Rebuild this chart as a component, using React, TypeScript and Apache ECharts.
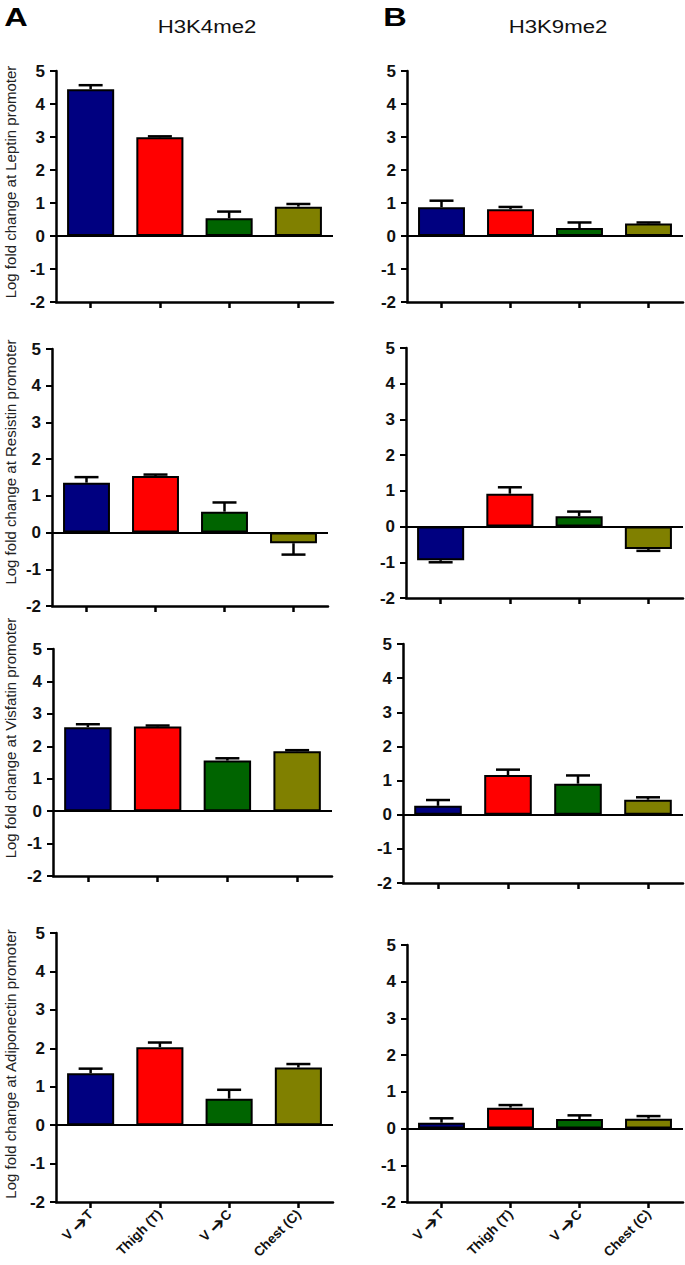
import React, { useEffect, useRef } from "react";
import * as echarts from "echarts";

const ARROW = "\u2794";
const categories = ["V " + ARROW + "T", "Thigh (T)", "V " + ARROW + "C", "Chest (C)"];
const barColors = ["#000080", "#ff0000", "#006400", "#808000"];
const yTicks = [-2, -1, 0, 1, 2, 3, 4, 5];
const histoneMarks = ["H3K4me2", "H3K9me2"];
const panelLetters = ["A", "B"];
const promoters = ["Leptin", "Resistin", "Visfatin", "Adiponectin"];

// H3K4me2 (panel A) means and SEM
const leptinK4 = [4.45, 2.99, 0.54, 0.89];
const leptinK4Sem = [0.12, 0.03, 0.2, 0.08];
const resistinK4 = [1.36, 1.54, 0.57, -0.29];
const resistinK4Sem = [0.15, 0.04, 0.25, 0.31];
const visfatinK4 = [2.59, 2.61, 1.56, 1.85];
const visfatinK4Sem = [0.09, 0.03, 0.07, 0.03];
const adiponectinK4 = [1.35, 2.03, 0.69, 1.5];
const adiponectinK4Sem = [0.12, 0.12, 0.23, 0.09];

// H3K9me2 (panel B) means and SEM
const leptinK9 = [0.87, 0.81, 0.24, 0.38];
const leptinK9Sem = [0.2, 0.07, 0.17, 0.03];
const resistinK9 = [-0.94, 0.92, 0.29, -0.63];
const resistinK9Sem = [0.06, 0.18, 0.13, 0.05];
const visfatinK9 = [0.26, 1.16, 0.91, 0.44];
const visfatinK9Sem = [0.17, 0.16, 0.24, 0.07];
const adiponectinK9 = [0.16, 0.57, 0.26, 0.27];
const adiponectinK9Sem = [0.12, 0.07, 0.1, 0.07];

const seriesK4 = [leptinK4, resistinK4, visfatinK4, adiponectinK4];
const semK4 = [leptinK4Sem, resistinK4Sem, visfatinK4Sem, adiponectinK4Sem];
const seriesK9 = [leptinK9, resistinK9, visfatinK9, adiponectinK9];
const semK9 = [leptinK9Sem, resistinK9Sem, visfatinK9Sem, adiponectinK9Sem];

// layout of grids (pixel boxes): [left, top, width, height]
const gridsLeft = [
  [56, 71, 277, 231],
  [52, 349, 276, 257],
  [53, 649, 279, 227],
  [56, 933, 277, 269],
];
const gridsRight = [
  [407, 71, 276, 231],
  [406, 348, 277, 250],
  [403, 644, 280, 239],
  [407, 945, 276, 257],
];
const yLabelCenters = [182, 462, 738, 1064];

const FONT = "Arial, 'Liberation Sans', sans-serif";

export default function App() {
  const ref = useRef<HTMLDivElement>(null);
  useEffect(() => {
    document.body.style.margin = "0";
    const chart = echarts.init(ref.current!, null, { renderer: "svg" });
    const grid: any[] = [];
    const xAxis: any[] = [];
    const yAxis: any[] = [];
    const series: any[] = [];
    let gi = 0;
    const addPanel = (box: number[], means: number[], sems: number[], showX: boolean) => {
      grid.push({ left: box[0], top: box[1], width: box[2], height: box[3], containLabel: false });
      xAxis.push({
        type: "category",
        gridIndex: gi,
        data: categories,
        axisLine: { onZero: false, lineStyle: { color: "#000", width: 2.5 } },
        axisTick: { show: true, alignWithLabel: true, length: 6, lineStyle: { color: "#000", width: 2.5 } },
        axisLabel: {
          show: showX,
          rotate: 45,
          margin: 10,
          color: "#111",
          fontWeight: "bold",
          fontSize: 13.5,
          fontFamily: FONT,
          formatter: (v: string) => (v.indexOf(ARROW) >= 0 ? v.split(ARROW).join("{arr|" + ARROW + "}") : v),
          rich: {
            arr: { fontSize: 19, fontWeight: "bold", color: "#111", fontFamily: "DejaVu Sans" },
          },
        },
        splitLine: { show: false },
      });
      yAxis.push({
        type: "value",
        gridIndex: gi,
        min: yTicks[0],
        max: yTicks[yTicks.length - 1],
        interval: 1,
        axisLine: { show: true, lineStyle: { color: "#000", width: 2.5 } },
        axisTick: { show: true, length: 6, lineStyle: { color: "#000", width: 2 } },
        axisLabel: { color: "#111", fontWeight: "bold", fontSize: 17, fontFamily: FONT, margin: 11 },
        splitLine: { show: false },
      });
      series.push({
        type: "bar",
        xAxisIndex: gi,
        yAxisIndex: gi,
        barWidth: "68%",
        data: means.map((v, i) => ({
          value: v,
          itemStyle: { color: barColors[i], borderColor: "#000", borderWidth: 2 },
        })),
        markLine: {
          silent: true,
          symbol: "none",
          label: { show: false },
          lineStyle: { color: "#000", width: 2, type: "solid" },
          data: [{ yAxis: 0 }],
        },
        z: 2,
      });
      series.push({
        type: "custom",
        xAxisIndex: gi,
        yAxisIndex: gi,
        z: 3,
        data: means.map((v, i) => [i, v, sems[i]]),
        dimensions: ["cat", "mean", "sem"],
        encode: { x: 0, y: 1 },
        renderItem: (params: any, api: any) => {
          const idx = api.value(0);
          const m = api.value(1);
          const s = api.value(2);
          const end = m >= 0 ? m + s : m - s;
          const p0 = api.coord([idx, m]);
          const p1 = api.coord([idx, end]);
          const hw = 12;
          const style = { stroke: "#000", lineWidth: 2.5 };
          return {
            type: "group",
            children: [
              { type: "line", shape: { x1: p0[0], y1: p0[1], x2: p1[0], y2: p1[1] }, style },
              { type: "line", shape: { x1: p1[0] - hw, y1: p1[1], x2: p1[0] + hw, y2: p1[1] }, style },
            ],
          };
        },
      });
      gi++;
    };
    for (let r = 0; r < 4; r++) {
      addPanel(gridsLeft[r], seriesK4[r], semK4[r], r === 3);
      addPanel(gridsRight[r], seriesK9[r], semK9[r], r === 3);
    }

    const letterStyle = { fontSize: 25, fontWeight: "bold", fontFamily: FONT, fill: "#000", textAlign: "center", textVerticalAlign: "middle" };
    const titleStyle = { fontSize: 18.5, fontFamily: FONT, fill: "#111", textAlign: "center", textVerticalAlign: "middle" };
    const graphic: any[] = [
      { type: "text", x: 16, y: 17, scaleX: 1.3, style: { ...letterStyle, text: panelLetters[0] } },
      { type: "text", x: 395, y: 17, scaleX: 1.3, style: { ...letterStyle, text: panelLetters[1] } },
      { type: "text", x: 207, y: 27, scaleX: 1.2, style: { ...titleStyle, text: histoneMarks[0] } },
      { type: "text", x: 558, y: 27, scaleX: 1.2, style: { ...titleStyle, text: histoneMarks[1] } },
    ];
    promoters.forEach((p, i) => {
      graphic.push({
        type: "text",
        x: 10,
        y: yLabelCenters[i],
        rotation: Math.PI / 2,
        style: {
          text: "Log fold change at " + p + " promoter",
          fontSize: 15,
          fontFamily: FONT,
          fill: "#222",
          textAlign: "center",
          textVerticalAlign: "middle",
        },
      });
    });

    chart.setOption({
      animation: false,
      backgroundColor: "#fff",
      grid,
      xAxis,
      yAxis,
      series,
      graphic,
    });
    return () => chart.dispose();
  }, []);
  return <div ref={ref} style={{ width: 685, height: 1265 }} />;
}
